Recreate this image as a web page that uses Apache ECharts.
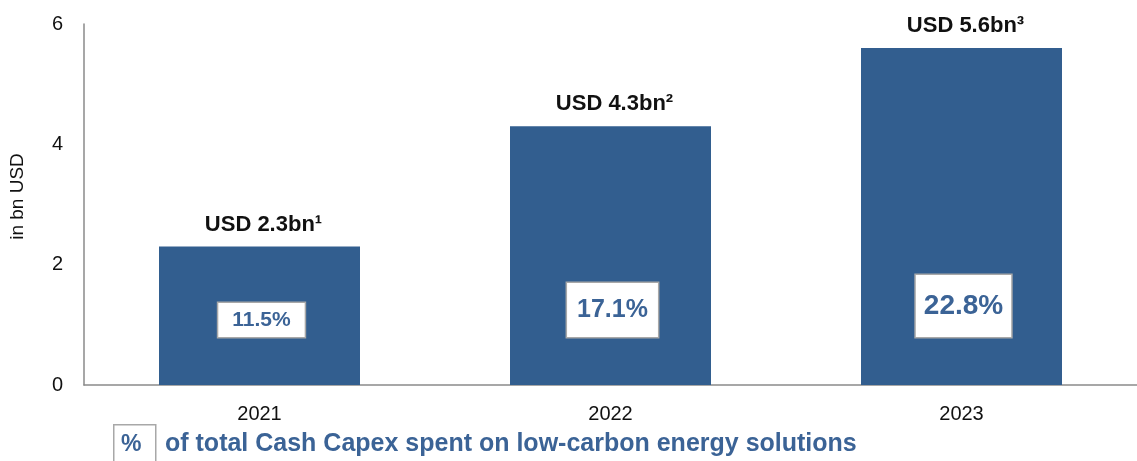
<!DOCTYPE html>
<html>
<head>
<meta charset="utf-8">
<script src="https://cdn.jsdelivr.net/npm/echarts@6/dist/echarts.min.js"></script>
<style>
html,body{margin:0;padding:0;background:#fff;}
#chart{width:1137px;height:461px;}
</style>
</head>
<body>
<div id="chart"></div>
<script>
const categories = ['2021', '2022', '2023'];
const capexValues = [2.3, 4.3, 5.6];
const topLabels = ['USD 2.3bn\u00B9', 'USD 4.3bn\u00B2', 'USD 5.6bn\u00B3'];
const shareLabels = ['11.5%', '17.1%', '22.8%'];
const yTicks = [0, 2, 4, 6];
const legendText = 'of total Cash Capex spent on low-carbon energy solutions';

const BAR = '#325E8F';
const BLUE = '#3B6396';
const FONT = '"Liberation Sans", Arial, sans-serif';
const boxStyles = [
  {fontSize: 21, padding: [7, 14, 6, 14]},
  {fontSize: 25, padding: [15, 10, 14, 10]},
  {fontSize: 28, padding: [17, 8, 17, 8]}
];

const chart = echarts.init(document.getElementById('chart'));
chart.setOption({
  animation: false,
  grid: {left: 84, top: 24, width: 1063, height: 361},
  xAxis: {
    type: 'category',
    data: categories,
    axisLine: {lineStyle: {color: '#8a8a8a', width: 1.5}},
    axisTick: {show: false},
    axisLabel: {color: '#111', fontSize: 20, fontFamily: FONT, margin: 19}
  },
  yAxis: {
    type: 'value',
    min: yTicks[0],
    max: yTicks[yTicks.length - 1],
    interval: 2,
    name: 'in bn USD',
    nameLocation: 'middle',
    nameGap: 57,
    nameTextStyle: {color: '#111', fontSize: 19, fontFamily: FONT, padding: [0, 0, 0, 16]},
    axisLine: {show: true, lineStyle: {color: '#8a8a8a', width: 1.5}},
    axisTick: {show: false},
    splitLine: {show: false},
    axisLabel: {color: '#111', fontSize: 20, fontFamily: FONT, margin: 21}
  },
  series: [
    {
      type: 'bar',
      barWidth: 201,
      itemStyle: {color: BAR},
      data: capexValues.map((v, i) => ({
        value: v,
        label: {
          show: true,
          position: 'insideBottom',
          distance: 48,
          offset: [2, 0],
          formatter: shareLabels[i],
          color: BLUE,
          fontWeight: 'bold',
          fontFamily: FONT,
          fontSize: boxStyles[i].fontSize,
          lineHeight: boxStyles[i].fontSize,
          backgroundColor: '#fff',
          borderColor: '#a8a8a8',
          borderWidth: 1.5,
          padding: boxStyles[i].padding
        }
      }))
    },
    {
      type: 'bar',
      barWidth: 201,
      barGap: '-100%',
      silent: true,
      itemStyle: {color: 'transparent'},
      data: capexValues.map((v, i) => ({
        value: v,
        label: {
          show: true,
          position: 'top',
          distance: 11,
          offset: [4, 0],
          formatter: topLabels[i],
          color: '#111',
          fontWeight: 'bold',
          fontSize: 22,
          fontFamily: FONT
        }
      }))
    }
  ],
  graphic: [
    {
      type: 'rect',
      left: 113, top: 424,
      shape: {width: 42, height: 45},
      style: {fill: '#fff', stroke: '#a8a8a8', lineWidth: 1.5}
    },
    {
      type: 'text',
      left: 121, top: 433,
      style: {text: '%', fill: BLUE, font: 'bold 23px ' + FONT}
    },
    {
      type: 'text',
      left: 165, top: 432,
      style: {text: legendText, fill: BLUE, font: 'bold 25px ' + FONT}
    }
  ]
});
</script>
</body>
</html>
